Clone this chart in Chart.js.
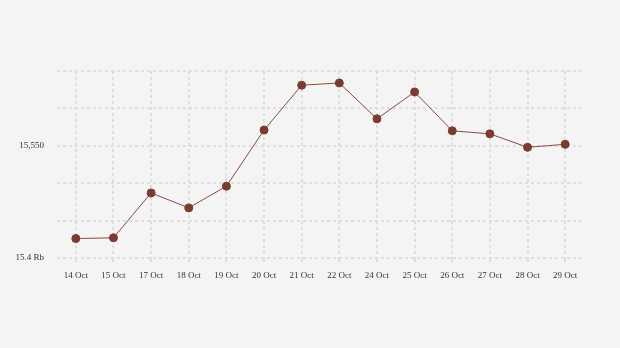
<!DOCTYPE html>
<html>
<head>
<meta charset="utf-8">
<script src="https://cdn.jsdelivr.net/npm/chart.js@4"></script>
<style>
  html, body { margin: 0; padding: 0; background: #f4f4f4; }
  #wrap { width: 620px; height: 348px; }
</style>
</head>
<body>
<div id="wrap"><canvas id="rateChart" width="620" height="348"></canvas></div>
<script>
// Data
const dates = ['14 Oct', '15 Oct', '17 Oct', '18 Oct', '19 Oct', '20 Oct', '21 Oct',
               '22 Oct', '24 Oct', '25 Oct', '26 Oct', '27 Oct', '28 Oct', '29 Oct'];
const rates = [15426, 15427, 15487, 15467, 15496, 15571, 15631,
               15634, 15586, 15622, 15570, 15566, 15548, 15552];
const yLabels = { 15400: '15.4 Rb', 15550: '15,550' };

// Paint the page colour behind the chart
const bgPlugin = {
    id: 'bg',
    beforeDraw(chart) {
        const ctx = chart.ctx;
        ctx.save();
        ctx.fillStyle = '#f4f4f4';
        ctx.fillRect(0, 0, chart.width, chart.height);
        ctx.restore();
    }
};

const font = { family: '"Liberation Serif", "DejaVu Serif", serif', size: 9 };
const gridColor = '#dedede';

new Chart(document.getElementById('rateChart'), {
    type: 'line',
    data: {
        labels: dates,
        datasets: [{
            data: rates,
            borderColor: '#8a4a40',
            borderWidth: 1,
            pointBackgroundColor: '#7b3b30',
            pointBorderColor: '#7b3b30',
            pointRadius: 4,
            tension: 0,
            fill: false
        }]
    },
    options: {
        responsive: false,
        animation: false,
        layout: { padding: { top: 71, right: 36, bottom: 60, left: 0 } },
        plugins: {
            legend: { display: false },
            tooltip: { enabled: false }
        },
        scales: {
            x: {
                offset: true,
                grid: {
                    offset: false,
                    color: gridColor,
                    lineWidth: 2,
                    drawTicks: true,
                    tickLength: 4
                },
                border: { display: false, dash: [3, 3] },
                ticks: { font: font, color: '#333', padding: 8, maxRotation: 0, autoSkip: false },
                afterFit(scale) { scale.height = 30; }
            },
            y: {
                min: 15400,
                max: 15650,
                grid: {
                    color: gridColor,
                    lineWidth: 2,
                    drawTicks: false
                },
                border: { display: false, dash: [3, 3] },
                ticks: {
                    stepSize: 50,
                    font: font,
                    color: '#333',
                    padding: 13,
                    autoSkip: false,
                    callback: v => yLabels[v] || ''
                },
                afterFit(scale) { scale.width = 57; }
            }
        }
    },
    plugins: [bgPlugin]
});
</script>
</body>
</html>
